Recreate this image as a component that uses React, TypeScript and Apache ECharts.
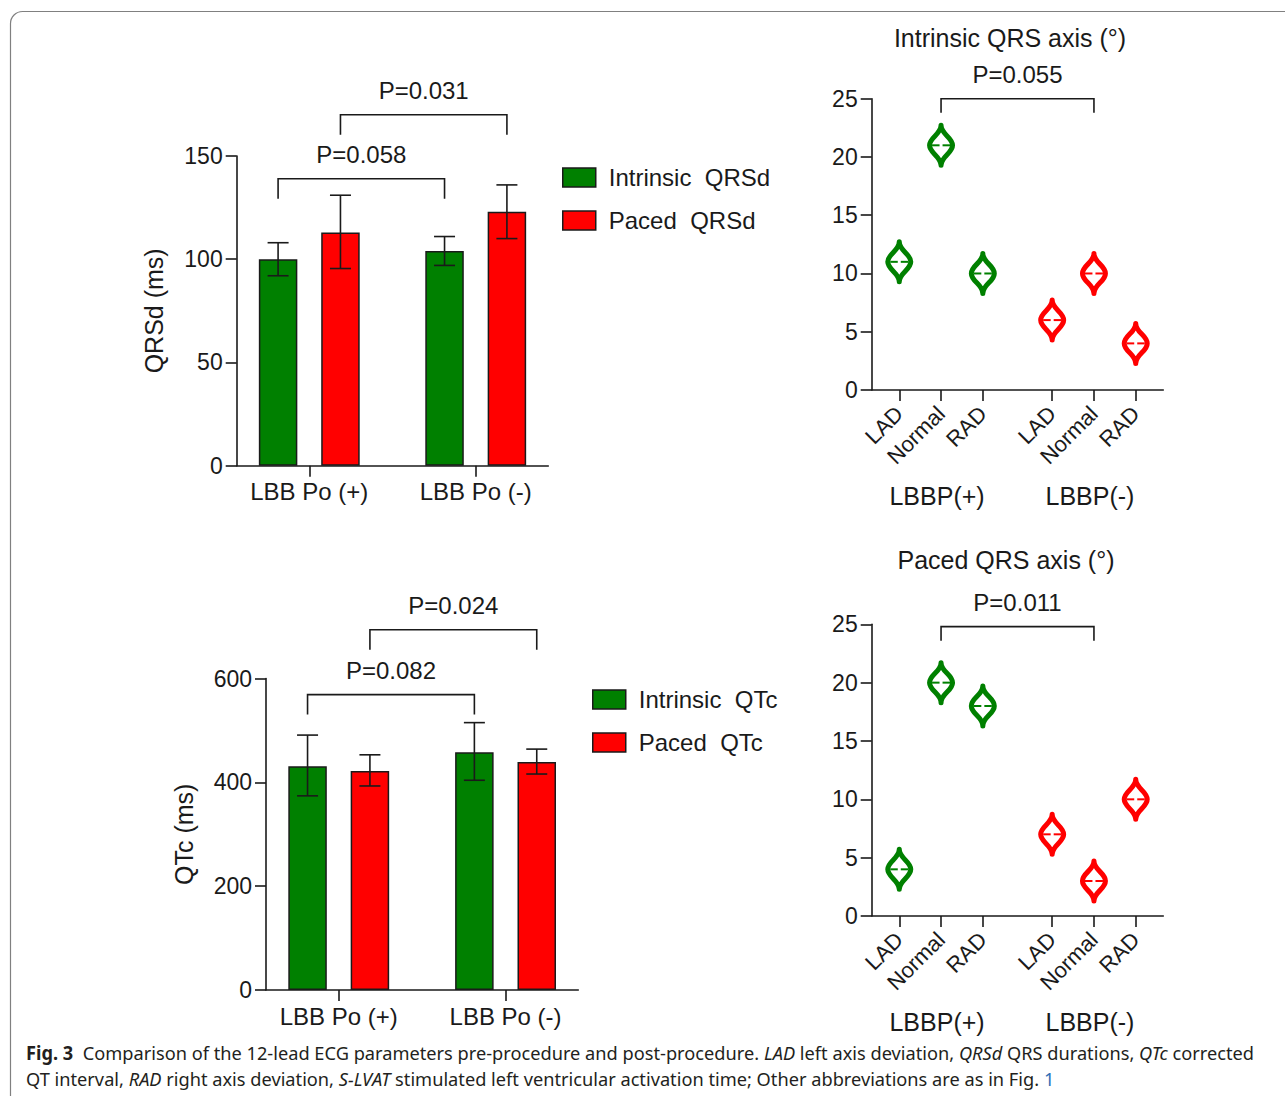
import React, { useEffect, useRef } from 'react';
import * as echarts from 'echarts';

const GREEN = '#008000';
const RED = '#ff0000';
const INK = '#1a1a1a';
const FONT = "'Liberation Sans', Arial, Helvetica, sans-serif";
const CAPTION_FONT = "'Noto Sans', 'Open Sans', sans-serif";

// ---------- bar panels (shared x) ----------
const barGroupLabels = ['LBB Po (+)', 'LBB Po (-)'];
const barGroupX = [1, 2];

// QRSd panel
const qrsdSeriesNames = ['Intrinsic  QRSd', 'Paced  QRSd'];
const qrsdIntrinsicMean = [100, 104];
const qrsdIntrinsicLow = [92, 97];
const qrsdIntrinsicHigh = [108, 111];
const qrsdPacedMean = [113, 123];
const qrsdPacedLow = [95.5, 110];
const qrsdPacedHigh = [131, 136];
const qrsdYTicks = [0, 50, 100, 150];
const qrsdBracketLabels = ['P=0.058', 'P=0.031'];
const qrsdBracketY = [139, 170];
const qrsdBracketBar = [0, 1];

// QTc panel
const qtcSeriesNames = ['Intrinsic  QTc', 'Paced  QTc'];
const qtcIntrinsicMean = [431, 458];
const qtcIntrinsicLow = [374, 404];
const qtcIntrinsicHigh = [491, 515];
const qtcPacedMean = [422, 439];
const qtcPacedLow = [393, 416];
const qtcPacedHigh = [453, 464];
const qtcYTicks = [0, 200, 400, 600];
const qtcBracketLabels = ['P=0.082', 'P=0.024'];
const qtcBracketY = [569, 694];
const qtcBracketBar = [0, 1];

// ---------- QRS axis panels ----------
const axisPositions = [1, 2, 3, 4.66, 5.66, 6.66];
const axisCategories = ['LAD', 'Normal', 'RAD', 'LAD', 'Normal', 'RAD'];
const axisGroupOf = [0, 0, 0, 1, 1, 1];
const axisGroups = ['LBBP(+)', 'LBBP(-)'];
const axisGroupCenterIndex = [1, 4];
const axisYTicks = [0, 5, 10, 15, 20, 25];
const intrinsicAxis = [11, 21, 10, 6, 10, 4];
const pacedAxis = [4, 20, 18, 7, 3, 10];
const intrinsicAxisBracketLabel = ['P=0.055'];
const intrinsicAxisBracketY = [25];
const pacedAxisBracketLabel = ['P=0.011'];
const pacedAxisBracketY = [24.8];

// ---------- caption ----------
const captionLine1 = [
  { s: 'b', t: 'Fig. 3' },
  { s: 'n', t: '  Comparison of the 12-lead ECG parameters pre-procedure and post-procedure. ' },
  { s: 'i', t: 'LAD' },
  { s: 'n', t: ' left axis deviation, ' },
  { s: 'i', t: 'QRSd' },
  { s: 'n', t: ' QRS durations, ' },
  { s: 'i', t: 'QTc' },
  { s: 'n', t: ' corrected' },
];
const captionLine2 = [
  { s: 'n', t: 'QT interval, ' },
  { s: 'i', t: 'RAD' },
  { s: 'n', t: ' right axis deviation, ' },
  { s: 'i', t: 'S-LVAT' },
  { s: 'n', t: ' stimulated left ventricular activation time; Other abbreviations are as in Fig. ' },
  { s: 'l', t: '1' },
];

// ---------- layout constants ----------
const BAR_WIDTH = 38.5;
const BAR_GAP = 0.62;
const BAR_OFFSET = (BAR_WIDTH * (1 + BAR_GAP)) / 2;
const CAP_HALF = 10.5;
const CAPTION_SIZE = 19;
const CAPTION_WIDTH = 1228;

const nearestIndex = (arr: number[], v: number) => {
  let best = 0;
  for (let i = 1; i < arr.length; i++) if (Math.abs(arr[i] - v) < Math.abs(arr[best] - v)) best = i;
  return best;
};

const lineStyle = { color: INK, width: 1.6 };

function barXAxis(gridIndex: number) {
  return {
    type: 'value',
    gridIndex,
    min: 0.564,
    max: 2.436,
    axisLine: { show: true, onZero: false, lineStyle },
    axisTick: { show: true, customValues: barGroupX, length: 11, lineStyle },
    axisLabel: {
      show: true,
      customValues: barGroupX,
      formatter: (v: number) => barGroupLabels[nearestIndex(barGroupX, v)],
      fontSize: 24,
      color: INK,
      fontFamily: FONT,
      margin: 14,
    },
    splitLine: { show: false },
  };
}

function violinXAxis(gridIndex: number) {
  return {
    type: 'value',
    gridIndex,
    min: 0.34,
    max: 7.32,
    axisLine: { show: true, onZero: false, lineStyle },
    axisTick: { show: true, customValues: axisPositions, length: 11, lineStyle },
    axisLabel: {
      show: true,
      customValues: axisPositions,
      formatter: (v: number) => axisCategories[nearestIndex(axisPositions, v)],
      rotate: 45,
      fontSize: 22,
      color: INK,
      fontFamily: FONT,
      margin: 20,
    },
    splitLine: { show: false },
  };
}

function yAxis(gridIndex: number, ticks: number[], name?: string) {
  return {
    type: 'value',
    gridIndex,
    min: ticks[0],
    max: ticks[ticks.length - 1],
    interval: ticks[1] - ticks[0],
    axisLine: { show: true, onZero: false, lineStyle },
    axisTick: { show: true, length: 11, lineStyle },
    axisLabel: { fontSize: 23, color: INK, fontFamily: FONT, margin: 14 },
    splitLine: { show: false },
    name: name || '',
    nameLocation: 'middle',
    nameGap: 70,
    nameTextStyle: { fontSize: 25, color: INK, fontFamily: FONT },
  };
}

function renderErrorBar(params: any, api: any) {
  const x = api.value(0);
  const lo = api.value(1);
  const hi = api.value(2);
  const bar = api.value(3);
  const off = bar === 0 ? -BAR_OFFSET : BAR_OFFSET;
  const pLo = api.coord([x, lo]);
  const pHi = api.coord([x, hi]);
  const cx = pLo[0] + off;
  const st = { stroke: INK, lineWidth: 1.6 };
  return {
    type: 'group',
    children: [
      { type: 'line', shape: { x1: cx, y1: pLo[1], x2: cx, y2: pHi[1] }, style: st },
      { type: 'line', shape: { x1: cx - CAP_HALF, y1: pHi[1], x2: cx + CAP_HALF, y2: pHi[1] }, style: st },
      { type: 'line', shape: { x1: cx - CAP_HALF, y1: pLo[1], x2: cx + CAP_HALF, y2: pLo[1] }, style: st },
    ],
  };
}

function makeBracketRenderer(labels: string[], leg: number) {
  return (params: any, api: any) => {
    const x1 = api.value(0);
    const x2 = api.value(1);
    const y = api.value(2);
    const bar = api.value(3);
    const off = bar === 0 ? -BAR_OFFSET : bar === 1 ? BAR_OFFSET : 0;
    const a = api.coord([x1, y]);
    const b = api.coord([x2, y]);
    const ax = a[0] + off;
    const bx = b[0] + off;
    return {
      type: 'group',
      children: [
        {
          type: 'polyline',
          shape: { points: [[ax, a[1] + leg], [ax, a[1]], [bx, a[1]], [bx, a[1] + leg]] },
          style: { stroke: INK, lineWidth: 1.6, fill: 'none' },
        },
        {
          type: 'text',
          x: (ax + bx) / 2,
          y: a[1] - 24,
          style: {
            text: labels[params.dataIndex],
            fontSize: 24,
            fontFamily: FONT,
            fill: INK,
            align: 'center',
            verticalAlign: 'middle',
          },
        },
      ],
    };
  };
}

const VIOLIN_PATH = 'M11.5 0 C11.5 9 23 12 23 20 C23 28 11.5 31 11.5 40 C11.5 31 0 28 0 20 C0 12 11.5 9 11.5 0 Z';

function renderViolin(params: any, api: any) {
  const x = api.value(0);
  const y = api.value(1);
  const g = api.value(2);
  const color = g === 0 ? GREEN : RED;
  const p = api.coord([x, y]);
  return {
    type: 'group',
    children: [
      {
        type: 'path',
        shape: { pathData: VIOLIN_PATH, x: p[0] - 11.5, y: p[1] - 20, width: 23, height: 40, layout: 'cover' },
        style: { fill: '#ffffff', stroke: color, lineWidth: 5, lineJoin: 'round' },
      },
      { type: 'line', shape: { x1: p[0] - 9, y1: p[1], x2: p[0] - 1.5, y2: p[1] }, style: { stroke: color, lineWidth: 2 } },
      { type: 'line', shape: { x1: p[0] + 1.5, y1: p[1], x2: p[0] + 9, y2: p[1] }, style: { stroke: color, lineWidth: 2 } },
    ],
  };
}

function renderGroupLabel(params: any, api: any) {
  const p = api.coord([api.value(0), api.value(1)]);
  return {
    type: 'text',
    x: p[0] - 4,
    y: p[1] + 106,
    style: {
      text: axisGroups[params.dataIndex],
      fontSize: 25,
      fontFamily: FONT,
      fill: INK,
      align: 'center',
      verticalAlign: 'middle',
    },
  };
}

function segFont(s: string) {
  const style = s === 'b' ? 'bold ' : s === 'i' ? 'italic ' : '';
  return `${style}${CAPTION_SIZE}px 'Noto Sans'`;
}

function measureSegments(segs: { s: string; t: string }[]) {
  const c = document.createElement('canvas').getContext('2d');
  if (!c) return 0;
  let w = 0;
  segs.forEach((sg) => {
    c.font = segFont(sg.s);
    w += c.measureText(sg.t).width;
  });
  return w;
}

const toRich = (segs: { s: string; t: string }[]) => segs.map((sg) => `{${sg.s}|${sg.t}}`).join('');

export default function App() {
  const ref = useRef<HTMLDivElement>(null);

  useEffect(() => {
    if (!ref.current) return;
    const chart = echarts.init(ref.current, null, { renderer: 'svg' });

    const natural = measureSegments(captionLine1);
    const capScale = natural > 0 ? CAPTION_WIDTH / natural : 0.87;
    const rich = {
      n: { fontSize: CAPTION_SIZE, fontFamily: CAPTION_FONT, fill: '#231f20' },
      b: { fontSize: CAPTION_SIZE, fontFamily: CAPTION_FONT, fontWeight: 'bold', fill: '#231f20' },
      i: { fontSize: CAPTION_SIZE, fontFamily: CAPTION_FONT, fontStyle: 'italic', fill: '#231f20' },
      l: { fontSize: CAPTION_SIZE, fontFamily: CAPTION_FONT, fill: '#2e6fb7' },
    };

    const legendCommon = {
      orient: 'vertical',
      icon: 'rect',
      itemWidth: 33,
      itemHeight: 19,
      itemGap: 19,
      selectedMode: false,
      itemStyle: { borderColor: INK, borderWidth: 1.5 },
      textStyle: { fontSize: 24, color: INK, fontFamily: FONT, padding: [0, 0, 0, 8] },
    };

    const option: any = {
      animation: false,
      backgroundColor: '#ffffff',
      textStyle: { fontFamily: FONT },
      grid: [
        { left: 236.7, top: 156, width: 311.6, height: 309.7, containLabel: false, outerBoundsMode: 'none' },
        { left: 266, top: 678.5, width: 312.3, height: 311.5, containLabel: false, outerBoundsMode: 'none' },
        { left: 871.7, top: 98.7, width: 291.6, height: 291.3, containLabel: false, outerBoundsMode: 'none' },
        { left: 871.7, top: 624.3, width: 291.6, height: 291.7, containLabel: false, outerBoundsMode: 'none' },
      ],
      xAxis: [barXAxis(0), barXAxis(1), violinXAxis(2), violinXAxis(3)],
      yAxis: [
        yAxis(0, qrsdYTicks, 'QRSd (ms)'),
        yAxis(1, qtcYTicks, 'QTc (ms)'),
        yAxis(2, axisYTicks),
        yAxis(3, axisYTicks),
      ],
      legend: [
        { ...legendCommon, left: 557, top: 160.5, data: qrsdSeriesNames },
        { ...legendCommon, left: 587, top: 682.5, data: qtcSeriesNames },
      ],
      graphic: [
        {
          type: 'rect',
          z: -10,
          shape: { x: 10.5, y: 11.5, width: 1400, height: 1200, r: 12 },
          style: { fill: 'none', stroke: '#808080', lineWidth: 1.2 },
          silent: true,
        },
        {
          type: 'text',
          x: 1010,
          y: 37.5,
          style: { text: 'Intrinsic QRS axis (°)', fontSize: 25, fontFamily: FONT, fill: INK, align: 'center', verticalAlign: 'middle' },
        },
        {
          type: 'text',
          x: 1006,
          y: 560,
          style: { text: 'Paced QRS axis (°)', fontSize: 25, fontFamily: FONT, fill: INK, align: 'center', verticalAlign: 'middle' },
        },
        {
          type: 'text',
          x: 26,
          y: 1052,
          scaleX: capScale,
          style: { text: toRich(captionLine1), rich, fontSize: CAPTION_SIZE, fontFamily: CAPTION_FONT, fill: '#231f20', verticalAlign: 'middle' },
        },
        {
          type: 'text',
          x: 26,
          y: 1078,
          scaleX: capScale,
          style: { text: toRich(captionLine2), rich, fontSize: CAPTION_SIZE, fontFamily: CAPTION_FONT, fill: '#231f20', verticalAlign: 'middle' },
        },
      ],
      series: [
        // QRSd bars
        {
          type: 'bar',
          name: qrsdSeriesNames[0],
          xAxisIndex: 0,
          yAxisIndex: 0,
          data: barGroupX.map((x, i) => [x, qrsdIntrinsicMean[i]]),
          barWidth: BAR_WIDTH,
          barGap: `${BAR_GAP * 100}%`,
          itemStyle: { color: GREEN, borderColor: INK, borderWidth: 1.5 },
        },
        {
          type: 'bar',
          name: qrsdSeriesNames[1],
          xAxisIndex: 0,
          yAxisIndex: 0,
          data: barGroupX.map((x, i) => [x, qrsdPacedMean[i]]),
          barWidth: BAR_WIDTH,
          barGap: `${BAR_GAP * 100}%`,
          itemStyle: { color: RED, borderColor: INK, borderWidth: 1.5 },
        },
        {
          type: 'custom',
          xAxisIndex: 0,
          yAxisIndex: 0,
          z: 5,
          silent: true,
          renderItem: renderErrorBar,
          data: barGroupX
            .map((x, i) => [x, qrsdIntrinsicLow[i], qrsdIntrinsicHigh[i], 0])
            .concat(barGroupX.map((x, i) => [x, qrsdPacedLow[i], qrsdPacedHigh[i], 1])),
        },
        {
          type: 'custom',
          xAxisIndex: 0,
          yAxisIndex: 0,
          z: 5,
          silent: true,
          clip: false,
          renderItem: makeBracketRenderer(qrsdBracketLabels, 20),
          data: qrsdBracketY.map((y, i) => [barGroupX[0], barGroupX[1], y, qrsdBracketBar[i]]),
        },
        // QTc bars
        {
          type: 'bar',
          name: qtcSeriesNames[0],
          xAxisIndex: 1,
          yAxisIndex: 1,
          data: barGroupX.map((x, i) => [x, qtcIntrinsicMean[i]]),
          barWidth: BAR_WIDTH,
          barGap: `${BAR_GAP * 100}%`,
          itemStyle: { color: GREEN, borderColor: INK, borderWidth: 1.5 },
        },
        {
          type: 'bar',
          name: qtcSeriesNames[1],
          xAxisIndex: 1,
          yAxisIndex: 1,
          data: barGroupX.map((x, i) => [x, qtcPacedMean[i]]),
          barWidth: BAR_WIDTH,
          barGap: `${BAR_GAP * 100}%`,
          itemStyle: { color: RED, borderColor: INK, borderWidth: 1.5 },
        },
        {
          type: 'custom',
          xAxisIndex: 1,
          yAxisIndex: 1,
          z: 5,
          silent: true,
          renderItem: renderErrorBar,
          data: barGroupX
            .map((x, i) => [x, qtcIntrinsicLow[i], qtcIntrinsicHigh[i], 0])
            .concat(barGroupX.map((x, i) => [x, qtcPacedLow[i], qtcPacedHigh[i], 1])),
        },
        {
          type: 'custom',
          xAxisIndex: 1,
          yAxisIndex: 1,
          z: 5,
          silent: true,
          clip: false,
          renderItem: makeBracketRenderer(qtcBracketLabels, 20),
          data: qtcBracketY.map((y, i) => [barGroupX[0], barGroupX[1], y, qtcBracketBar[i]]),
        },
        // Intrinsic QRS axis
        {
          type: 'custom',
          xAxisIndex: 2,
          yAxisIndex: 2,
          silent: true,
          clip: false,
          renderItem: renderViolin,
          data: axisPositions.map((x, i) => [x, intrinsicAxis[i], axisGroupOf[i]]),
        },
        {
          type: 'custom',
          xAxisIndex: 2,
          yAxisIndex: 2,
          silent: true,
          clip: false,
          renderItem: makeBracketRenderer(intrinsicAxisBracketLabel, 14),
          data: intrinsicAxisBracketY.map((y) => [axisPositions[1], axisPositions[4], y, -1]),
        },
        {
          type: 'custom',
          xAxisIndex: 2,
          yAxisIndex: 2,
          silent: true,
          clip: false,
          renderItem: renderGroupLabel,
          data: axisGroupCenterIndex.map((k) => [axisPositions[k], axisYTicks[0]]),
        },
        // Paced QRS axis
        {
          type: 'custom',
          xAxisIndex: 3,
          yAxisIndex: 3,
          silent: true,
          clip: false,
          renderItem: renderViolin,
          data: axisPositions.map((x, i) => [x, pacedAxis[i], axisGroupOf[i]]),
        },
        {
          type: 'custom',
          xAxisIndex: 3,
          yAxisIndex: 3,
          silent: true,
          clip: false,
          renderItem: makeBracketRenderer(pacedAxisBracketLabel, 14),
          data: pacedAxisBracketY.map((y) => [axisPositions[1], axisPositions[4], y, -1]),
        },
        {
          type: 'custom',
          xAxisIndex: 3,
          yAxisIndex: 3,
          silent: true,
          clip: false,
          renderItem: renderGroupLabel,
          data: axisGroupCenterIndex.map((k) => [axisPositions[k], axisYTicks[0]]),
        },
      ],
    };

    chart.setOption(option);
    return () => chart.dispose();
  }, []);

  return (
    <div
      ref={ref}
      style={{ position: 'absolute', left: 0, top: 0, width: 1285, height: 1096, background: '#ffffff' }}
    />
  );
}
